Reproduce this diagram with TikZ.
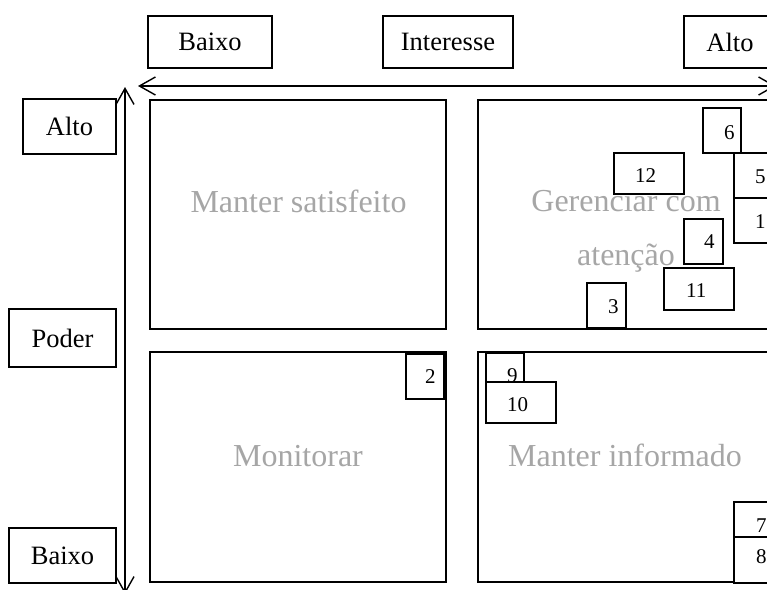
\documentclass[tikz,border=0pt]{standalone}
\usepackage{fontspec}
\setmainfont{Liberation Serif}
\usetikzlibrary{arrows.meta}
\definecolor{faint}{RGB}{166,166,166}
\tikzset{
  quad/.style={draw=black, line width=1.6pt, fill=white, anchor=north west, inner sep=0pt, outer sep=0pt},
  lbl/.style={draw=black, line width=1.6pt, fill=white, anchor=north west, inner sep=0pt, outer sep=0pt},
  lbltext/.style={font=\fontsize{26.5}{30}\selectfont, inner sep=0pt},
  bigtext/.style={font=\fontsize{32}{54}\selectfont, text=faint, inner sep=0pt, align=center},
  numbox/.style={draw=black, line width=1.3pt, fill=white, anchor=north west, inner sep=0pt, outer sep=0pt},
  numtext/.style={font=\fontsize{21}{24}\selectfont, inner sep=0pt, anchor=base west},
  axis/.style={line width=1.4pt, {Straight Barb[length=16pt,width=18pt,line width=1.4pt]}-{Straight Barb[length=16pt,width=18pt,line width=1.4pt]}}
}
\begin{document}
\begin{tikzpicture}[x=1pt,y=-1pt]
\useasboundingbox (0,0) rectangle (767,589);
\fill[white] (0,0) rectangle (767,589);

% top labels
\node[lbl, minimum width=124, minimum height=52] (tb) at (148,16) {};
\node[lbltext] at (tb.center) {Baixo};
\node[lbl, minimum width=130, minimum height=52] (ti) at (383,16) {};
\node[lbltext] at (ti.center) {Interesse};
\node[lbl, minimum width=92, minimum height=52] (ta) at (684,16) {};
\node[lbltext] at (ta.center) {Alto};

% left labels
\node[lbl, minimum width=93, minimum height=55] (la) at (23,99) {};
\node[lbltext] at (la.center) {Alto};
\node[lbl, minimum width=107, minimum height=58] (lp) at (9,309) {};
\node[lbltext] at (lp.center) {Poder};
\node[lbl, minimum width=107, minimum height=55] (lb) at (9,528) {};
\node[lbltext] at (lb.center) {Baixo};

% axes
\coordinate (hl) at (138,86);
\coordinate (hr) at (776,86);
\coordinate (vt) at (125,87);
\coordinate (vb) at (125,594);
\draw[axis] (hl) -- (hr);
\draw[axis] (vt) -- (vb);

% quadrants
\node[quad, minimum width=296, minimum height=229] (q1) at (150,100) {};
\node[quad, minimum width=312, minimum height=229] (q2) at (478,100) {};
\node[quad, minimum width=296, minimum height=230] (q3) at (150,352) {};
\node[quad, minimum width=312, minimum height=230] (q4) at (478,352) {};

\node[bigtext, anchor=base] (t1) at (298.5,212) {Manter satisfeito};
\node[bigtext, anchor=base] (t2) at (626,265) {Gerenciar com\\atenção};
\node[bigtext, anchor=base] (t3) at (298,466) {Monitorar};
\node[bigtext, anchor=base] (t4) at (625,466) {Manter informado};

% numbered boxes, top right
\node[numbox, minimum width=38, minimum height=45] (b6) at (703,108) {};
\node[numtext] at (724,139) {6};
\node[numbox, minimum width=70, minimum height=41] (b12) at (614,153) {};
\node[numtext] at (635,182) {12};
\node[numbox, minimum width=56, minimum height=45] (b5) at (734,153) {};
\node[numtext] at (755,183) {5};
\node[numbox, minimum width=56, minimum height=45] (b1) at (734,198) {};
\node[numtext] at (755,228) {1};
\node[numbox, minimum width=39, minimum height=45] (b4) at (684,219) {};
\node[numtext] at (704,248) {4};
\node[numbox, minimum width=70, minimum height=42] (b11) at (664,268) {};
\node[numtext] at (686,297) {11};
\node[numbox, minimum width=39, minimum height=45] (b3) at (587,283) {};
\node[numtext] at (608,313) {3};

% bottom left
\node[numbox, minimum width=38, minimum height=45] (b2) at (406,354) {};
\node[numtext] at (425,383) {2};

% bottom right
\node[numbox, minimum width=38, minimum height=45] (b9) at (486,353) {};
\node[numtext] at (507,382) {9};
\node[numbox, minimum width=70, minimum height=41] (b10) at (486,382) {};
\node[numtext] at (507,411) {10};
\node[numbox, minimum width=56, minimum height=35] (b7) at (734,502) {};
\node[numtext] at (756,532) {7};
\node[numbox, minimum width=56, minimum height=46] (b8) at (734,537) {};
\node[numtext] at (756,563) {8};
\end{tikzpicture}
\end{document}
